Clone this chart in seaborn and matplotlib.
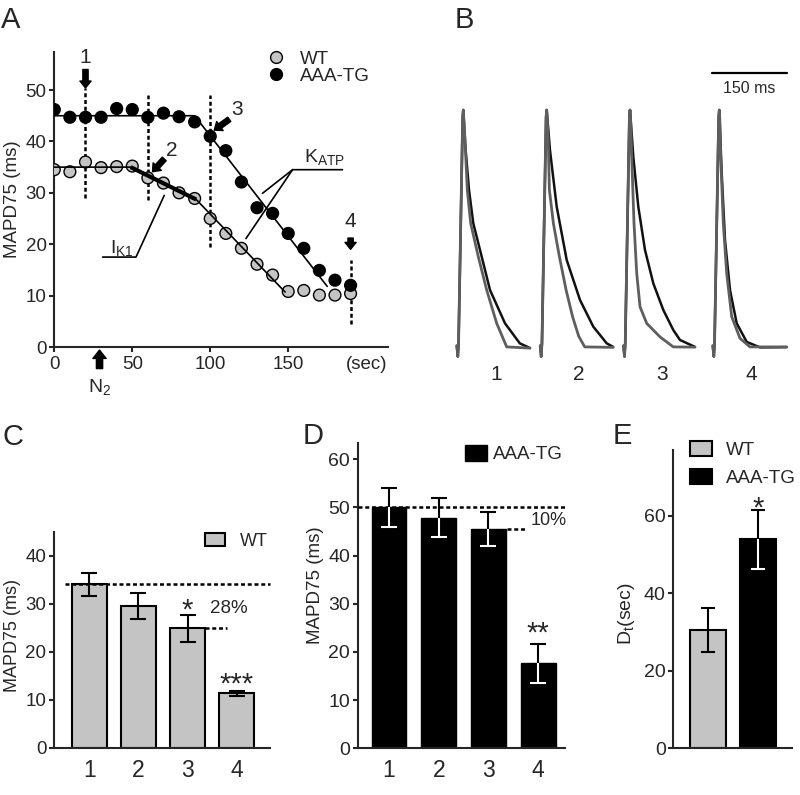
import numpy as np
import pandas as pd
import matplotlib
matplotlib.use('Agg')
import matplotlib.pyplot as plt
import seaborn as sns
from matplotlib.patches import Patch
from matplotlib.lines import Line2D

# ------------------------------------------------------------------ data
# Panel A: MAPD75 during hypoxia (N2)
TIME_S = [0, 10, 20, 30, 40, 50, 60, 70, 80, 90, 100, 110, 120, 130, 140, 150, 160, 170, 180, 190]
WT_MAPD = [34.5, 34.1, 36.0, 34.9, 35.1, 35.2, 32.9, 31.9, 30.0, 28.9, 25.0, 22.1, 19.2, 16.1, 14.0, 10.8, 11.0, 10.1, 10.1, 10.4]
TG_MAPD = [46.2, 44.7, 44.7, 44.7, 46.4, 46.2, 44.7, 45.5, 44.8, 43.8, 41.0, 38.2, 32.1, 27.1, 26.0, 22.1, 19.2, 14.9, 13.0, 12.0]
WT_FIT_T = [0, 49, 91, 148]
WT_FIT_V = [35.0, 35.0, 28.7, 10.7]
IK1_FIT_T = [49, 91]
IK1_FIT_V = [35.0, 28.7]
TG_FIT_T = [0, 90, 175]
TG_FIT_V = [45.0, 45.0, 11.8]
MARK_T = [20, 60, 100, 190]
MARK_LO = [28.9, 28.6, 19.5, 4.5]
MARK_HI = [50.3, 49.0, 49.0, 16.9]

# Panel B: action-potential traces (time ms from peak, % amplitude)
UP_T = [-13.0, -11.0, -9.5, -1.2, 0.0]
UP_V = [1.0, -3.5, 2.0, 97.0, 100.0]
WT_TR_T = [
    [3.4, 8.0, 14.8, 30.0, 46.8, 66.8, 86.8, 133.4],
    [3.0, 5.4, 13.4, 25.4, 38.8, 52.0, 64.0, 76.0, 133.0],
    [1.2, 3.4, 8.0, 13.4, 20.0, 33.4, 60.0, 86.6, 130.0],
    [1.0, 2.8, 8.0, 14.8, 24.8, 41.4, 61.4, 134.8],
]
WT_TR_V = [
    [87.4, 66.4, 52.4, 38.4, 24.4, 10.4, 0.5, 0.0],
    [88.0, 66.4, 52.4, 38.4, 24.4, 13.0, 5.0, 0.5, 0.3],
    [96.0, 80.4, 52.5, 31.5, 17.4, 10.4, 4.7, 0.5, 0.4],
    [96.0, 80.4, 52.4, 31.4, 13.2, 4.1, 0.5, 0.5],
]
TG_TR_T = [
    [4.0, 11.4, 20.0, 36.8, 53.4, 83.4, 113.0, 133.4],
    [6.6, 20.0, 40.0, 66.6, 93.2, 120.0, 133.0],
    [6.6, 16.6, 30.0, 46.6, 66.6, 86.6, 100.0, 130.0],
    [4.8, 11.4, 21.4, 34.8, 54.8, 81.4, 134.8],
]
TG_TR_V = [
    [85.0, 66.4, 52.4, 38.4, 24.4, 10.4, 2.0, 0.0],
    [83.0, 59.4, 37.0, 20.2, 9.0, 2.0, 0.5],
    [80.4, 59.4, 41.2, 27.2, 16.0, 7.6, 3.4, 0.5],
    [73.4, 45.4, 24.4, 10.4, 2.6, 0.3, 0.4],
]
TRACE_LABELS = ['1', '2', '3', '4']
SCALE_MS = 150

# Panel C: WT MAPD75
C_LABELS = ['1', '2', '3', '4']
C_WT_MEAN = [34.1, 29.6, 24.9, 11.4]
C_WT_SEM = [2.4, 2.7, 2.8, 0.5]
# Panel D: AAA-TG MAPD75
D_LABELS = ['1', '2', '3', '4']
D_TG_MEAN = [50.0, 47.9, 45.5, 17.6]
D_TG_SEM = [4.1, 4.0, 3.6, 4.1]
# Panel E: Dt
E_GROUPS = ['WT', 'AAA-TG']
E_DT_MEAN = [30.5, 53.9]
E_DT_SEM = [5.6, 7.7]

# ------------------------------------------------------------------ style
sns.set_style('ticks')
plt.rcParams['font.family'] = ['Liberation Sans', 'DejaVu Sans']
plt.rcParams['mathtext.fontset'] = 'custom'
plt.rcParams['mathtext.rm'] = 'Liberation Sans'
plt.rcParams['mathtext.it'] = 'Liberation Sans:italic'
plt.rcParams['axes.linewidth'] = 1.5
plt.rcParams['xtick.major.width'] = 1.5
plt.rcParams['ytick.major.width'] = 1.5

GRAY = '#c4c4c4'
TRACE_GRAY = '#5e5e5e'
FW, FH = 800, 795

fig = plt.figure(figsize=(8, 7.95), dpi=100)


def px_axes(l, t, r, b):
    return fig.add_axes([l / FW, 1 - b / FH, (r - l) / FW, (b - t) / FH])


def style_axes(ax, ytick_fs=13.5):
    for s in ['top', 'right']:
        ax.spines[s].set_visible(False)
    ax.tick_params(axis='y', labelsize=ytick_fs, length=3.5, pad=2, direction='out')


axA = px_axes(54.3, 52, 388, 347)
axB = px_axes(440, 60, 800, 390)
axC = px_axes(54, 532, 270, 748)
axD = px_axes(357.7, 443.3, 565, 748.3)
axE = px_axes(673.3, 450, 791.7, 748.3)

# ------------------------------------------------------------------ panel A
dfA = pd.DataFrame({
    't': TIME_S + TIME_S,
    'mapd': WT_MAPD + TG_MAPD,
    'group': ['WT'] * len(TIME_S) + ['AAA-TG'] * len(TIME_S),
})
sns.scatterplot(data=dfA, x='t', y='mapd', hue='group',
                palette={'WT': GRAY, 'AAA-TG': 'black'},
                edgecolor='k', linewidth=1.0, s=72, ax=axA, legend=False, zorder=3)
axA.plot(WT_FIT_T, WT_FIT_V, color='k', lw=1.2, zorder=4)
axA.plot(IK1_FIT_T, IK1_FIT_V, color='k', lw=3.0, zorder=4, solid_capstyle='butt')
axA.plot(TG_FIT_T, TG_FIT_V, color='k', lw=1.2, zorder=4)
axA.vlines(MARK_T, MARK_LO, MARK_HI, colors='k', linestyles=(0, (1.6, 1.1)), lw=1.8, zorder=2)

arrow_small = dict(arrowstyle='simple,head_length=0.5,head_width=0.8,tail_width=0.38',
                   fc='k', ec='k', shrinkA=0, shrinkB=0, mutation_scale=10)
axA.annotate('', xy=(20, 50.4), xytext=(20, 54.0), arrowprops=arrow_small)
axA.annotate('', xy=(63, 34.1), xytext=(70.5, 36.6), arrowprops=arrow_small)
axA.annotate('', xy=(102.6, 42.2), xytext=(112.2, 44.3), arrowprops=arrow_small)
axA.annotate('', xy=(190, 19.0), xytext=(190, 21.2), arrowprops=arrow_small)
axA.annotate('', xy=(29, -0.6), xytext=(29, -4.2), annotation_clip=False,
             arrowprops=dict(arrowstyle='simple,head_length=0.6,head_width=0.95,tail_width=0.45',
                             fc='k', ec='k', shrinkA=0, shrinkB=0, mutation_scale=10))
axA.text(29, -7.8, r'N$_\mathrm{2}$', fontsize=14, ha='center', va='center', clip_on=False)

for lab, x, y in [('1', 20, 56.3), ('2', 75.5, 38.2), ('3', 117, 46.2), ('4', 190, 24.5)]:
    axA.text(x, y, lab, fontsize=15, ha='center', va='center')

# I_K1 / K_ATP pointer lines
axA.plot([31, 52.4, 70.5], [17.5, 17.5, 29.5], color='k', lw=1.2)
axA.text(43, 18.3, r'I$_\mathrm{K1}$', fontsize=14, ha='center', va='baseline')
axA.plot([184.8, 152.8, 133.5], [34.5, 34.5, 29.9], color='k', lw=1.2)
axA.plot([152.8, 122.9], [34.5, 21.1], color='k', lw=1.2)
axA.text(160.3, 36.0, r'K$_\mathrm{ATP}$', fontsize=14, ha='left', va='baseline')

axA.set_xlim(0, 214)
axA.set_ylim(0, 57.4)
axA.set_yticks([0, 10, 20, 30, 40, 50])
axA.set_xticks([0, 50, 100, 150, 200])
axA.set_xticklabels(['0', '50', '100', '150', '(sec)'])
style_axes(axA)
axA.tick_params(axis='x', labelsize=13.5, length=3.5, pad=3)
axA.xaxis.get_major_ticks()[-1].tick1line.set_visible(False)
axA.set_xlabel('')
axA.set_ylabel('MAPD75 (ms)', fontsize=13.5)
axA.yaxis.set_label_coords(-0.101, 0.5)
axA.legend(
    handles=[Line2D([], [], marker='o', ls='none', mfc=GRAY, mec='k', mew=1.0, ms=8.5),
             Line2D([], [], marker='o', ls='none', mfc='k', mec='k', mew=1.0, ms=8.5)],
    labels=['WT', 'AAA-TG'], loc='upper left', bbox_to_anchor=(0.636, 1.005),
    frameon=False, fontsize=13.5, handlelength=1.0, handletextpad=0.8,
    labelspacing=0.0, borderpad=0, borderaxespad=0)

# ------------------------------------------------------------------ panel B
PEAKS_MS = [46.6, 213.4, 380.0, 558.6]
for i, pk in enumerate(PEAKS_MS):
    tg_t = [pk + v for v in UP_T + TG_TR_T[i]]
    tg_v = UP_V + TG_TR_V[i]
    wt_t = [pk + v for v in UP_T + WT_TR_T[i]]
    wt_v = UP_V + WT_TR_V[i]
    sns.lineplot(x=tg_t, y=tg_v, ax=axB, color='#111111', lw=1.8, sort=False,
                 estimator=None)
    sns.lineplot(x=wt_t, y=wt_v, ax=axB, color=TRACE_GRAY, lw=2.0, sort=False,
                 estimator=None)
    axB.text(pk + 65, -11.3, TRACE_LABELS[i], fontsize=15, ha='center', va='center')
axB.plot([544, 544 + SCALE_MS], [115.5, 115.5], color='k', lw=1.6)
axB.text(544 + SCALE_MS / 2, 109, f'{SCALE_MS} ms', fontsize=11.5, ha='center', va='center')
axB.set_xlim(0, 720)
axB.set_ylim(-17.6, 121)
axB.axis('off')


# ------------------------------------------------------------------ bar helpers
def split_errorbar(ax, x, mean, sem, inside_color, capsize):
    """Error bar: black above bar top, inside_color inside the bar."""
    lo = ax.errorbar(x, mean, yerr=[sem, [0] * len(sem)], fmt='none', ecolor=inside_color,
                     elinewidth=1.5, capsize=capsize, capthick=1.5, zorder=5)
    hi = ax.errorbar(x, mean, yerr=[[0] * len(sem), sem], fmt='none', ecolor='k',
                     elinewidth=1.5, capsize=capsize, capthick=1.5, zorder=5)
    for container in (lo, hi):
        for cap in container[1]:
            yd = np.asarray(cap.get_ydata(), dtype=float)
            if np.allclose(yd, np.asarray(mean, dtype=float)):
                cap.set_visible(False)


# ------------------------------------------------------------------ panel C
sns.barplot(x=C_LABELS, y=C_WT_MEAN, ax=axC, color=GRAY, saturation=1,
            edgecolor='k', linewidth=1.5, width=0.72, errorbar=None)
axC.errorbar(range(len(C_LABELS)), C_WT_MEAN, yerr=C_WT_SEM, fmt='none', ecolor='k',
             elinewidth=1.5, capsize=6, capthick=1.5, zorder=5)
axC.plot([-0.5, 3.68], [C_WT_MEAN[0], C_WT_MEAN[0]], color='k', lw=1.8,
         ls=(0, (1.6, 1.1)), clip_on=False, zorder=4)
axC.plot([2.36, 2.8], [C_WT_MEAN[2], C_WT_MEAN[2]], color='k', lw=1.8,
         ls=(0, (1.6, 1.1)), zorder=4)
axC.text(2.45, 29.0, '28%', fontsize=13.5, ha='left', va='center')
axC.text(2.0, 28.6, '*', fontsize=21, ha='center', va='center')
axC.text(3.0, 13.2, '***', fontsize=21, ha='center', va='center')
axC.set_xlim(-0.72, 3.68)
axC.set_ylim(0, 45)
axC.set_yticks([0, 10, 20, 30, 40])
style_axes(axC)
axC.tick_params(axis='x', labelsize=16.5, length=0, pad=8)
axC.set_ylabel('MAPD75 (ms)', fontsize=13)
axC.yaxis.set_label_coords(-0.155, 0.523)
axC.legend(handles=[Patch(facecolor=GRAY, edgecolor='k', lw=1.5)], labels=['WT'],
           loc='center left', bbox_to_anchor=(0.699, 0.956), frameon=False,
           fontsize=13, handlelength=1.1, handleheight=0.75, handletextpad=0.85,
           borderpad=0, borderaxespad=0)

# ------------------------------------------------------------------ panel D
sns.barplot(x=D_LABELS, y=D_TG_MEAN, ax=axD, color='black', saturation=1,
            edgecolor='k', linewidth=1.0, width=0.70, errorbar=None)
split_errorbar(axD, range(len(D_LABELS)), D_TG_MEAN, D_TG_SEM, 'white', 5.5)
axD.plot([-0.63, 3.54], [D_TG_MEAN[0], D_TG_MEAN[0]], color='k', lw=1.8,
         ls=(0, (1.6, 1.1)), clip_on=False, zorder=4)
axD.plot([2.37, 2.74], [D_TG_MEAN[2], D_TG_MEAN[2]], color='k', lw=1.8,
         ls=(0, (1.6, 1.1)), zorder=4)
axD.text(2.84, 47.3, '10%', fontsize=13, ha='left', va='center')
axD.text(3.0, 23.8, '**', fontsize=21, ha='center', va='center')
axD.set_xlim(-0.63, 3.54)
axD.set_ylim(0, 63.3)
axD.set_yticks([0, 10, 20, 30, 40, 50, 60])
style_axes(axD, ytick_fs=14)
axD.tick_params(axis='x', labelsize=16.5, length=0, pad=8)
axD.set_ylabel('MAPD75 (ms)', fontsize=13.5)
axD.yaxis.set_label_coords(-0.163, 0.535)
axD.legend(handles=[Patch(facecolor='k', edgecolor='k')], labels=['AAA-TG'],
           loc='center left', bbox_to_anchor=(0.5176, 0.965), frameon=False,
           fontsize=13.5, handlelength=1.15, handleheight=1.0, handletextpad=0.35,
           borderpad=0, borderaxespad=0)

# ------------------------------------------------------------------ panel E
sns.barplot(x=E_GROUPS, y=E_DT_MEAN, ax=axE, hue=E_GROUPS,
            palette={'WT': GRAY, 'AAA-TG': 'black'}, saturation=1,
            edgecolor='k', linewidth=1.5, width=0.72, errorbar=None, legend=False)
axE.errorbar([0], [E_DT_MEAN[0]], yerr=[E_DT_SEM[0]], fmt='none', ecolor='k',
             elinewidth=1.5, capsize=5, capthick=1.5, zorder=5)
split_errorbar(axE, [1], [E_DT_MEAN[1]], [E_DT_SEM[1]], 'white', 5)
axE.text(1.0, 61.8, '*', fontsize=21, ha='center', va='center')
axE.set_xlim(-0.70, 1.68)
axE.set_ylim(0, 77)
axE.set_yticks([0, 20, 40, 60])
axE.set_xticks([])
style_axes(axE, ytick_fs=14)
axE.set_ylabel(r'D$_\mathrm{t}$(sec)', fontsize=14)
axE.yaxis.set_label_coords(-0.306, 0.453)
axE.set_xlabel('')
axE.legend(handles=[Patch(facecolor=GRAY, edgecolor='k', lw=1.5),
                    Patch(facecolor='k', edgecolor='k', lw=1.5)],
           labels=['WT', 'AAA-TG'], loc='upper left', bbox_to_anchor=(0.141, 1.03),
           frameon=False, fontsize=13.5, handlelength=1.15, handleheight=0.85,
           handletextpad=0.75, labelspacing=0.55, borderpad=0, borderaxespad=0)

for ax in (axC, axD):
    ax.set_xlabel('')

# ------------------------------------------------------------------ panel letters
for lab, x, y in [('A', 1, 28.3), ('B', 455, 28.3), ('C', 2, 445), ('D', 303, 444), ('E', 613, 444)]:
    fig.text(x / FW, 1 - y / FH, lab, fontsize=21, ha='left', va='baseline')

fig.savefig('out.png', dpi=100)
